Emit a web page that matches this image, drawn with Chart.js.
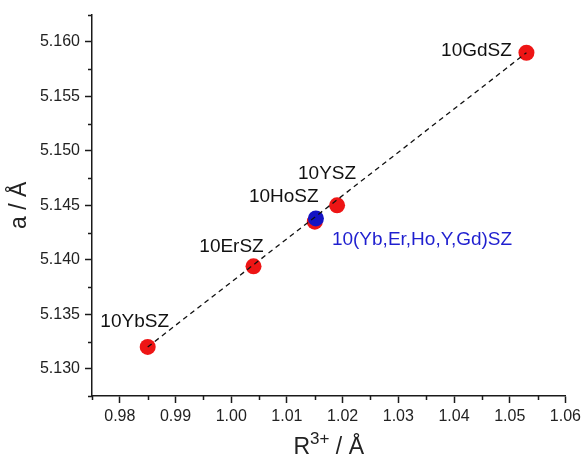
<!DOCTYPE html>
<html><head><meta charset="utf-8">
<script src="https://cdn.jsdelivr.net/npm/chart.js@4.4.1/dist/chart.umd.min.js"></script>
<style>html,body{margin:0;padding:0;background:#fff;}</style>
</head><body>
<canvas id="c" width="585" height="456" style="display:block;width:585px;height:456px"></canvas>
<script>
// ---- data ----
const sampleNames = ['10YbSZ', '10ErSZ', '10HoSZ', '10YSZ', '10GdSZ'];
const ionicRadius = [0.985, 1.004, 1.015, 1.019, 1.053];
const latticeA = [5.1320, 5.1394, 5.1435, 5.1450, 5.1590];
const mixName = ['10(Yb,Er,Ho,Y,Gd)SZ'];
const mixRadius = [1.0152];
const mixA = [5.1438];
const fitRadius = [0.985, 1.053];
const fitA = [5.1320, 5.1590];
const xTickValues = [0.98, 0.99, 1.00, 1.01, 1.02, 1.03, 1.04, 1.05, 1.06];
const yTickValues = [5.130, 5.135, 5.140, 5.145, 5.150, 5.155, 5.160];
const xTitleParts = ['R', '3+', ' / Å'];
const yTitle = 'a / Å';

// ---- styles ----
const FONT = '"Liberation Sans", Arial, sans-serif';
const AXIS = '#1a1a1a';
const labelOffsets = [[-13, -25], [-22, -20], [-31, -25], [-10, -32], [-50, -2]];
const mixLabelOffset = [16, 21];

const pts = (xs, ys) => xs.map((x, i) => ({x: x, y: ys[i]}));

const extras = {
  id: 'extras',
  afterDraw(chart) {
    const ctx = chart.ctx;
    ctx.save();
    ctx.strokeStyle = AXIS;
    ctx.lineWidth = 1.5;
    const xs = chart.scales.x, ys = chart.scales.y;
    const xm = [xTickValues[0] - 0.005].concat(xTickValues.slice(0, -1).map((v, i) => (v + xTickValues[i + 1]) / 2));
    const ym = [yTickValues[0] - 0.0025].concat(yTickValues.slice(0, -1).map((v, i) => (v + yTickValues[i + 1]) / 2), [yTickValues[yTickValues.length - 1] + 0.0025]);
    const ca = chart.chartArea;
    const b = ca.bottom, l = ca.left;
    ctx.beginPath();
    xm.forEach(v => { const p = Math.round(xs.getPixelForValue(v)) + 0.5; ctx.moveTo(p, b); ctx.lineTo(p, b + 4); });
    ym.forEach(v => { const p = Math.round(ys.getPixelForValue(v)) + 0.5; ctx.moveTo(l, p); ctx.lineTo(l - 4, p); });
    ctx.stroke();

    // point labels
    ctx.font = '19px ' + FONT;
    ctx.textBaseline = 'middle';
    ctx.textAlign = 'center';
    ctx.fillStyle = '#111';
    chart.getDatasetMeta(2).data.forEach((el, i) => {
      ctx.fillText(sampleNames[i], el.x + labelOffsets[i][0], el.y + labelOffsets[i][1]);
    });
    ctx.textAlign = 'left';
    ctx.fillStyle = '#1f1fcf';
    chart.getDatasetMeta(1).data.forEach((el, i) => {
      ctx.fillText(mixName[i], el.x + mixLabelOffset[0], el.y + mixLabelOffset[1]);
    });

    // x axis title with superscript
    ctx.fillStyle = '#222';
    ctx.textBaseline = 'alphabetic';
    const big = '23px ' + FONT, small = '17px ' + FONT;
    ctx.font = big; const w0 = ctx.measureText(xTitleParts[0]).width;
    const w2 = ctx.measureText(xTitleParts[2]).width;
    ctx.font = small; const w1 = ctx.measureText(xTitleParts[1]).width;
    let x = (ca.left + ca.right) / 2 - (w0 + w1 + w2) / 2;
    const base = chart.height - 2;
    ctx.font = big; ctx.fillText(xTitleParts[0], x, base); x += w0;
    ctx.font = small; ctx.fillText(xTitleParts[1], x, base - 10); x += w1;
    ctx.font = big; ctx.fillText(xTitleParts[2], x, base);
    ctx.restore();
  }
};

new Chart(document.getElementById('c'), {
  type: 'scatter',
  data: {
    datasets: [
      {
        type: 'line', data: pts(fitRadius, fitA), borderColor: '#111', borderWidth: 1.3,
        borderDash: [5, 4], pointRadius: 0, fill: false, showLine: true
      },
      {
        data: pts(mixRadius, mixA), backgroundColor: '#1414c4', borderWidth: 0,
        pointRadius: 8, pointHoverRadius: 8
      },
      {
        data: pts(ionicRadius, latticeA), backgroundColor: '#ee1515', borderWidth: 0,
        pointRadius: 8, pointHoverRadius: 8
      }
    ]
  },
  options: {
    responsive: false,
    animation: false,
    events: [],
    layout: {padding: {left: 0, top: 13, right: 16, bottom: 0}},
    plugins: {legend: {display: false}, tooltip: {enabled: false}},
    scales: {
      x: {
        type: 'linear', min: 0.975, max: 1.06,
        afterBuildTicks: s => { s.ticks = xTickValues.map(v => ({value: v})); },
        afterFit: s => { s.height = 60; },
        ticks: {
          callback: v => v.toFixed(2), font: {family: FONT, size: 16}, color: '#222', padding: 4, maxRotation: 0
        },
        grid: {drawOnChartArea: false, drawTicks: true, tickLength: 7, tickWidth: 1.5, tickColor: AXIS},
        border: {display: true, color: AXIS, width: 1.5},
        title: {display: false}
      },
      y: {
        type: 'linear', min: 5.1275, max: 5.1625,
        afterBuildTicks: s => { s.ticks = yTickValues.map(v => ({value: v})); },
        afterFit: s => { s.width = 92; },
        ticks: {
          callback: v => v.toFixed(3), font: {family: FONT, size: 16}, color: '#222', padding: 5
        },
        grid: {drawOnChartArea: false, drawTicks: true, tickLength: 7, tickWidth: 1.5, tickColor: AXIS},
        border: {display: true, color: AXIS, width: 1.5},
        title: {display: true, text: yTitle, font: {family: FONT, size: 23, lineHeight: 1}, color: '#222', padding: {top: 8, bottom: 0}}
      }
    }
  },
  plugins: [extras]
});
</script>
</body></html>
